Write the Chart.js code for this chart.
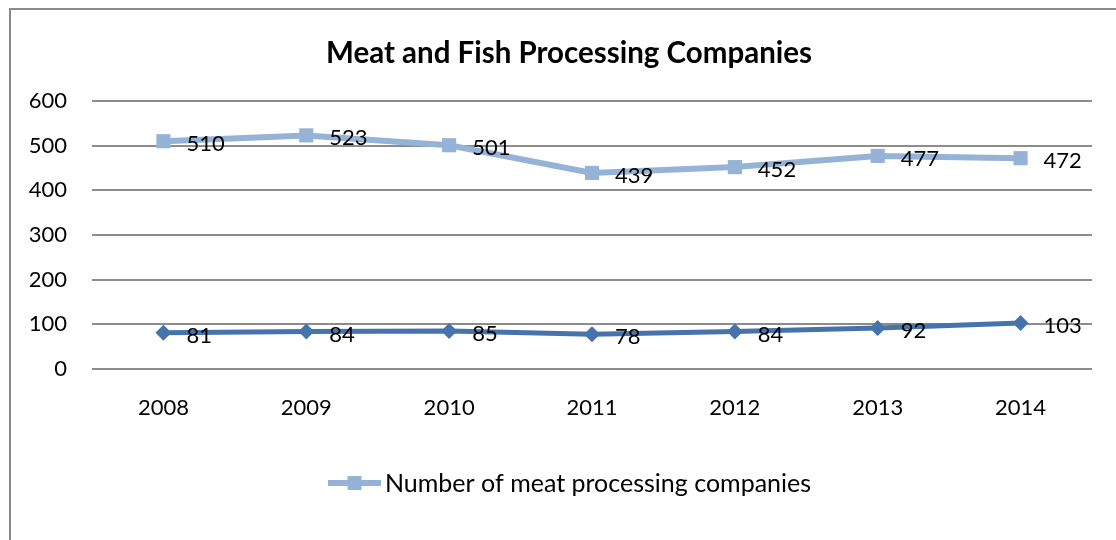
<!DOCTYPE html>
<html>
<head>
<meta charset="utf-8">
<title>Meat and Fish Processing Companies</title>
<script src="https://cdn.jsdelivr.net/npm/chart.js@4.4.1/dist/chart.umd.min.js"></script>
<style>
	html, body { margin: 0; padding: 0; background: #fff; }
	canvas { display: block; }
</style>
</head>
<body>
<canvas id="grafico" width="1116" height="540"></canvas>
<script>
var anni = ['2008', '2009', '2010', '2011', '2012', '2013', '2014'];
var aziendeCarne = [510, 523, 501, 439, 452, 477, 472];
var aziendePesce = [81, 84, 85, 78, 84, 92, 103];
var tickY = [0, 100, 200, 300, 400, 500, 600];

var titolo = 'Meat and Fish Processing Companies';
var nomeCarne = 'Number of meat processing companies';
var nomePesce = 'Number of fish processing companies';

var coloreCarne = '#95B3D7';
var colorePesce = '#4673AC';
var font = 'Lato, "Open Sans", sans-serif';

// cornice, titolo, etichette dei valori e legenda (solo la prima serie)
var decorazioni = {
	id: 'decorazioni',
	beforeDraw: function (chart) {
		var ctx = chart.ctx;
		ctx.save();
		ctx.strokeStyle = '#8a8a8a';
		ctx.lineWidth = 2;
		ctx.strokeRect(10, 9, 1200, 600);
		ctx.restore();
	},
	afterDatasetsDraw: function (chart) {
		var ctx = chart.ctx;
		ctx.save();
		ctx.font = '22px ' + font;
		ctx.fillStyle = '#000';
		ctx.textAlign = 'left';
		ctx.textBaseline = 'middle';
		chart.data.datasets.forEach(function (ds, i) {
			var meta = chart.getDatasetMeta(i);
			meta.data.forEach(function (pt, j) {
				ctx.fillText(ds.data[j], pt.x + 23, pt.y + 3);
			});
		});
		ctx.restore();
	},
	afterDraw: function (chart) {
		var ctx = chart.ctx;
		ctx.save();
		ctx.fillStyle = '#000';
		ctx.textBaseline = 'middle';
		ctx.textAlign = 'center';
		ctx.font = 'bold 29.5px ' + font;
		ctx.fillText(titolo, 569, 53);

		ctx.font = '25px ' + font;
		var x0 = 328;
		var y0 = 483;
		ctx.strokeStyle = coloreCarne;
		ctx.lineWidth = 6;
		ctx.beginPath();
		ctx.moveTo(x0, y0);
		ctx.lineTo(x0 + 53, y0);
		ctx.stroke();
		ctx.fillStyle = coloreCarne;
		ctx.fillRect(x0 + 26.5 - 7, y0 - 7, 14, 14);
		ctx.fillStyle = '#000';
		ctx.textAlign = 'left';
		ctx.fillText(nomeCarne, x0 + 57, y0 + 1);
		ctx.restore();
	}
};

var ctx = document.getElementById('grafico');
var chart = new Chart(ctx, {
	type: 'line',
	data: {
		labels: anni,
		datasets: [{
			label: nomeCarne,
			data: aziendeCarne,
			borderColor: coloreCarne,
			backgroundColor: coloreCarne,
			borderWidth: 6,
			pointStyle: 'rect',
			pointRadius: 10,
			pointHoverRadius: 10,
			pointBorderWidth: 0,
			tension: 0
		}, {
			label: nomePesce,
			data: aziendePesce,
			borderColor: colorePesce,
			backgroundColor: colorePesce,
			borderWidth: 5,
			pointStyle: 'rectRot',
			pointRadius: 8,
			pointHoverRadius: 8,
			pointBorderWidth: 0,
			tension: 0
		}]
	},
	options: {
		responsive: false,
		animation: false,
		events: [],
		layout: { padding: { top: 101, right: 24, bottom: 0, left: 0 } },
		plugins: {
			legend: { display: false },
			title: { display: false },
			tooltip: { enabled: false }
		},
		scales: {
			x: {
				offset: true,
				grid: { display: false, drawTicks: false },
				border: { display: false },
				ticks: { color: '#000', font: { family: font, size: 22 }, padding: 26, maxRotation: 0 },
				afterFit: function (scale) { scale.height = 171; }
			},
			y: {
				min: 0,
				max: 600,
				afterBuildTicks: function (scale) {
					scale.ticks = tickY.map(function (v) { return { value: v }; });
				},
				grid: { color: '#8c8c8c', lineWidth: 2, drawTicks: false },
				border: { display: false },
				ticks: { color: '#000', font: { family: font, size: 22 }, padding: 25 },
				afterFit: function (scale) { scale.width = 92; }
			}
		}
	},
	plugins: [decorazioni]
});
</script>
</body>
</html>
